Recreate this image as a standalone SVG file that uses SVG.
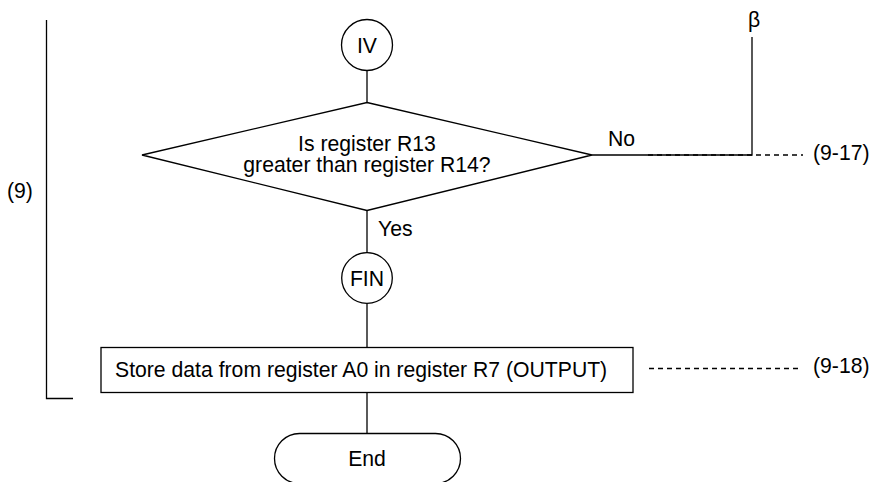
<svg xmlns="http://www.w3.org/2000/svg" width="874" height="482" viewBox="0 0 874 482">
<style>
.s{fill:#fff;stroke:#000;stroke-width:1.3}
.l{fill:none;stroke:#000;stroke-width:1.3}
.d{fill:none;stroke:#000;stroke-width:1.3;stroke-dasharray:5 4}
.t{font-family:"Liberation Sans",Arial,sans-serif;font-size:21.2px;fill:#000}
.m{text-anchor:middle}
</style>
<rect width="874" height="482" fill="#fff"/>
<g id="connectors">
<line class="l" x1="367" y1="70.5" x2="367" y2="102.5"/>
<line class="l" x1="367" y1="210.5" x2="367" y2="252.5"/>
<line class="l" x1="367" y1="303.5" x2="367" y2="347.5"/>
<line class="l" x1="367" y1="392.5" x2="367" y2="433.5"/>
<polyline class="l" points="592,155 752,155 752,37"/>
<line class="d" x1="648" y1="155" x2="803" y2="155" stroke-dasharray="6 6"/>
<line class="d" x1="649" y1="368.5" x2="799" y2="368.5"/>
<text class="t" x="608" y="146">No</text>
<text class="t" x="378" y="236">Yes</text>
</g>
<g id="bracket">
<polyline class="l" points="46.5,20 46.5,398.5 73,398.5"/>
<text class="t" x="7" y="198">(9)</text>
</g>
<g id="iv">
<circle class="s" cx="367" cy="45" r="25.5"/>
<text class="t m" x="367" y="52.5">IV</text>
</g>
<g id="decision">
<polygon class="s" points="367,102.5 592,155 367,210.5 142,155"/>
<text class="t m" x="367" y="151">Is register R13</text>
<text class="t m" x="367" y="172">greater than register R14?</text>
</g>
<g id="beta">
<text class="t m" x="754" y="27" font-family="'DejaVu Serif','Liberation Serif',serif">β</text>
</g>
<g id="fin">
<circle class="s" cx="367" cy="278" r="25.3"/>
<text class="t m" x="367" y="285.5">FIN</text>
</g>
<g id="store">
<rect class="s" x="101" y="347.5" width="532" height="45"/>
<text class="t" x="115" y="377">Store data from register A0 in register R7 (OUTPUT)</text>
</g>
<g id="end">
<rect class="s" x="274.5" y="433.5" width="186" height="50" rx="25" ry="25"/>
<text class="t m" x="367" y="466">End</text>
</g>
<g id="refs">
<text class="t" x="813" y="160">(9-17)</text>
<text class="t" x="813" y="373">(9-18)</text>
</g>
</svg>
